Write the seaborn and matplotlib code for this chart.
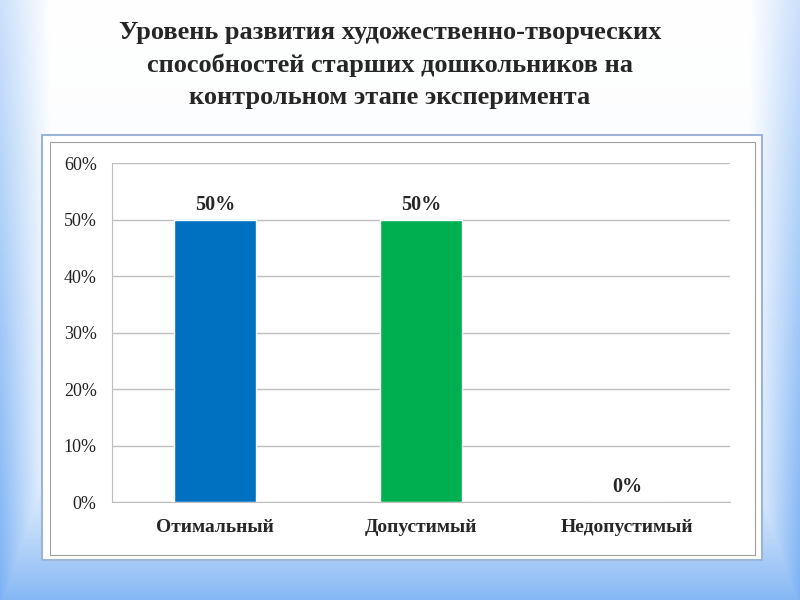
import numpy as np
import pandas as pd
import seaborn as sns
import matplotlib.pyplot as plt
from matplotlib.patches import Rectangle

#### Data
categories = ['Отимальный', 'Допустимый', 'Недопустимый']
values = [50, 50, 0]
bar_colors = ['#0070C0', '#00B050', '#00B050']
title = ('Уровень развития художественно-творческих\n'
         'способностей старших дошкольников на\n'
         'контрольном этапе эксперимента')

df = pd.DataFrame({'cat': categories, 'val': values})

sns.set_style("white")
plt.rcParams['font.family'] = ['Liberation Serif', 'DejaVu Serif']

fig = plt.figure(figsize=(8, 6), dpi=100, facecolor='white')

#### Slide background (soft blue gradient at the edges)
bg = fig.add_axes([0, 0, 1, 1], zorder=-10)
yy, xx = np.mgrid[0:600, 0:800]
edge = np.clip(1 - np.minimum(xx, 799 - xx) / 50.0, 0, 1) * (0.35 + 0.45 * yy / 600.0)
bottom = np.clip((yy - 440) / 160.0, 0, 1) ** 1.3
tint = np.clip(np.maximum(edge, bottom * 0.75) + 0.08 * (yy / 600.0), 0, 1)
base = np.array([1.0, 1.0, 1.0])
blue = np.array([0.42, 0.66, 0.95])
img = base * (1 - tint[..., None]) + blue * tint[..., None]
bg.imshow(img, extent=[0, 800, 600, 0], aspect='auto')
bg.set_xlim(0, 800)
bg.set_ylim(600, 0)
bg.axis('off')

# chart frame
bg.add_patch(Rectangle((42, 135), 720, 425, facecolor='white',
                       edgecolor='#9BB4D8', linewidth=1.5))
bg.add_patch(Rectangle((50, 142), 705, 413, facecolor='white',
                       edgecolor='#A0A0A0', linewidth=0.8))

fig.text(0.4875, 0.892, title, ha='center', va='center', fontsize=19,
         fontweight='bold', linespacing=1.5)

#### Bar chart
ax = fig.add_axes([0.14, 0.1633, 0.7725, 0.565])
sns.barplot(data=df, x='cat', y='val', hue='cat', palette=bar_colors,
            width=0.4, saturation=1, legend=False, ax=ax)

ax.set_ylim(0, 60)
ax.set_xlim(-0.5, 2.5)
ax.set_yticks(range(0, 61, 10))
ax.set_yticklabels([f'{v}%' for v in range(0, 61, 10)], fontsize=13)
ax.yaxis.grid(True, color='#BFBFBF', linewidth=1)
ax.set_axisbelow(True)
ax.tick_params(axis='y', length=5, color='#BFBFBF', pad=6, labelcolor='#222222')
ax.set_xticks([])
ax.set_xticks([-0.5, 0.5, 1.5, 2.5], minor=True)
ax.tick_params(axis='x', which='minor', length=5, color='#BFBFBF', direction='out')
for i, c in enumerate(categories):
    ax.text(i, -4.5, c, ha='center', va='center', fontsize=14,
            fontweight='bold')
for i, v in enumerate(values):
    ax.text(i, v + 2.6, f'{v}%', ha='center', va='center', fontsize=14.5,
            fontweight='bold')

ax.set_xlabel('')
ax.set_ylabel('')
for s in ['top', 'right']:
    ax.spines[s].set_visible(False)
ax.spines['left'].set_color('#BFBFBF')
ax.spines['bottom'].set_color('#BFBFBF')
ax.patch.set_alpha(0)

plt.savefig('out.png', dpi=100)
